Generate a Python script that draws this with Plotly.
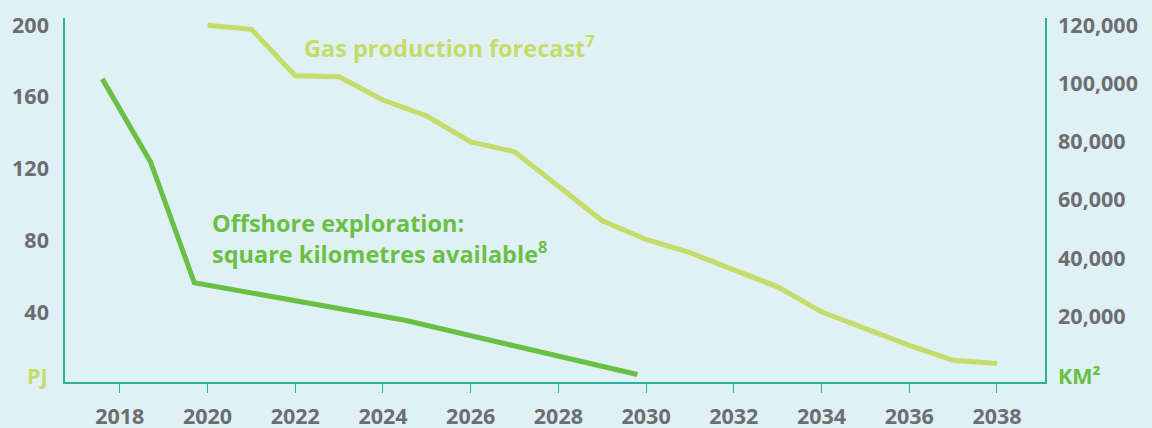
import plotly.graph_objects as go

# ---- data ----
gas_years = [2020, 2021, 2022, 2023, 2024, 2025, 2026, 2027, 2028, 2029,
             2030, 2031, 2032, 2033, 2034, 2035, 2036, 2037, 2038]
gas_pj = [199.8, 197.6, 171.7, 171.2, 158.2, 149.3, 134.9, 129.4, 110.2, 90.9,
          80.5, 73.2, 63.6, 54.1, 40.2, 30.8, 21.5, 13.2, 11.4]

offshore_years = [2017.6, 2018.7, 2019.7, 2024.5, 2029.8]
offshore_km2 = [101500, 73000, 31500, 18600, 0]

x_tick_years = [2018, 2020, 2022, 2024, 2026, 2028, 2030, 2032, 2034, 2036, 2038]
left_tick_vals = [40, 80, 120, 160, 200]
right_tick_vals = [20000, 40000, 60000, 80000, 100000, 120000]

BG = "#dff1f5"
AXIS = "#2bb09a"
GREY = "#6d6e71"
LIGHT = "#c5dc6a"
DARK = "#6abf45"
FONT = "Open Sans"
TICK_SIZE = 21.5

fig = go.Figure()
fig.add_trace(go.Scatter(x=gas_years, y=gas_pj, mode="lines",
                         line=dict(color=LIGHT, width=5), yaxis="y",
                         name="Gas production forecast"))
fig.add_trace(go.Scatter(x=offshore_years, y=offshore_km2, mode="lines",
                         line=dict(color=DARK, width=5), yaxis="y2",
                         name="Offshore exploration"))

fig.update_layout(
    width=1152, height=428,
    margin=dict(l=65, r=107, t=18, b=46, autoexpand=False),
    paper_bgcolor=BG, plot_bgcolor=BG,
    showlegend=False,
    font=dict(family=FONT, color=GREY),
    xaxis=dict(range=[2016.75, 2039.095], tickvals=x_tick_years,
               ticktext=[f"<b>{y}</b>" for y in x_tick_years],
               showgrid=False, zeroline=False, showline=True, automargin=False,
               linecolor=AXIS, linewidth=1.5, ticks="outside", ticklen=9,
               tickcolor=AXIS, tickwidth=1.2, ticklabelstandoff=5,
               tickfont=dict(size=TICK_SIZE, color=GREY, family=FONT)),
    yaxis=dict(range=[1.1, 203.9], tickvals=left_tick_vals,
               ticktext=[f"<b>{v}</b>" for v in left_tick_vals],
               showgrid=False, zeroline=False, showline=True, automargin=False,
               linecolor=AXIS, linewidth=1.5, ticks="", ticklabelstandoff=10,
               tickfont=dict(size=TICK_SIZE, color=GREY, family=FONT)),
    yaxis2=dict(range=[-2580, 122400], overlaying="y", side="right",
                tickvals=right_tick_vals,
                ticktext=[f"<b>{v:,}</b>" for v in right_tick_vals],
                showgrid=False, zeroline=False, showline=True, automargin=False,
                linecolor=AXIS, linewidth=1.5, ticks="", ticklabelstandoff=7,
                tickfont=dict(size=TICK_SIZE, color=GREY, family=FONT)),
)

fig.add_annotation(xref="paper", yref="paper", x=0, y=0.018, xanchor="right",
                   yanchor="middle", xshift=-15, showarrow=False,
                   text="<b>PJ</b>", font=dict(size=TICK_SIZE, color=LIGHT, family=FONT))
fig.add_annotation(xref="paper", yref="paper", x=1, y=0.018, xanchor="left",
                   yanchor="middle", xshift=11, showarrow=False,
                   text="<b>KM²</b>", font=dict(size=TICK_SIZE, color=DARK, family=FONT))
fig.add_annotation(xref="paper", yref="paper", x=(302 - 65) / 980, y=(381.7 - 46.5) / 363.7,
                   xanchor="left", yanchor="middle", showarrow=False,
                   text="<b>Gas production forecast<sup>7</sup></b>",
                   font=dict(size=23.5, color=LIGHT, family=FONT))
fig.add_annotation(xref="paper", yref="paper", x=(210 - 65) / 980, y=(381.7 - 238) / 363.7,
                   xanchor="left", yanchor="middle", showarrow=False, align="left",
                   text="<b>Offshore exploration:<br>square kilometres available<sup>8</sup></b>",
                   font=dict(size=23.5, color=DARK, family=FONT))

fig.write_html("out.html", config={"displayModeBar": False},
               post_script="document.body.style.margin='0';document.body.style.padding='0';")
